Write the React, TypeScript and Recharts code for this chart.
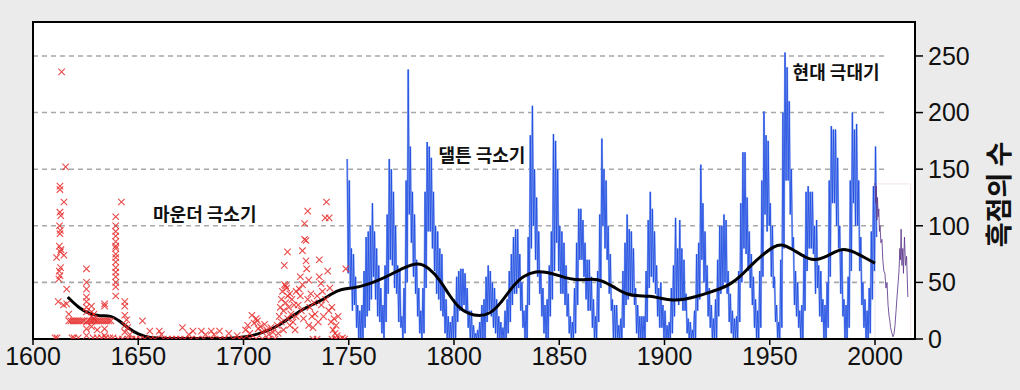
import React from 'react';
import {
  ComposedChart, Line, Scatter, XAxis, YAxis, CartesianGrid,
  ReferenceLine, ReferenceArea, ReferenceDot,
} from 'recharts';

// ---------- Data ----------
const xTicks = [1600, 1650, 1700, 1750, 1800, 1850, 1900, 1950, 2000];
const yTicks = [0, 50, 100, 150, 200, 250];
const gridValues = [50, 100, 150, 200, 250];

// Telescopic observations (group numbers) 1610-1749 — red crosses
const redYears = [
  1610.5, 1611.5, 1613.6, 1615.5, 1612.8, 1612.8, 1614.7, 1612.8, 1613.2, 1612.6, 1613.0, 1612.8, 1612.5, 1613.3,
  1613.0, 1611.2, 1614.7, 1613.1, 1612.5, 1612.8, 1612.3, 1612.0, 1616.0, 1616.0, 1614.5, 1617.0,
  1617, 1618, 1619, 1620, 1621, 1622, 1623, 1624, 1626, 1627, 1628, 1629, 1630, 1631, 1632, 1633, 1635, 1636, 1637,
  1618.5, 1619.5, 1621.5, 1628.5, 1630.5, 1632.5, 1634.5, 1636.5, 1638,
  1625.4, 1625.4, 1625.4, 1625.4, 1625.4, 1625.4, 1625.4, 1625.4, 1625.4, 1625.4,
  1627.8, 1627.8, 1627.8, 1627.8, 1629, 1629, 1634, 1634, 1634, 1634, 1634, 1630.5,
  1639.3, 1639.3, 1639.3, 1639.3, 1639.3, 1639.3, 1639.3, 1639.3, 1639.3, 1639.3, 1639.3, 1639.3, 1639.3,
  1639.3, 1639.3, 1639.3, 1642,
  1643.6, 1643.6, 1643.6, 1643.6, 1643.6, 1644.5, 1645, 1646, 1652,
  1655.5, 1660, 1661, 1671, 1674, 1676, 1680, 1682, 1684.7, 1686, 1688.6, 1693, 1697,
  1640.5, 1642.5, 1645, 1647, 1649, 1651, 1653, 1656, 1658, 1662, 1664, 1666, 1668, 1670, 1672, 1675, 1678,
  1681, 1685, 1689, 1691, 1695, 1698, 1700, 1703, 1706, 1709, 1712, 1715,
  1701, 1702, 1703, 1704, 1705, 1706, 1706.6, 1707, 1708, 1709, 1710, 1711, 1712, 1713, 1714,
  1716, 1716.5, 1717, 1717.5, 1718, 1718, 1718.5, 1719, 1719, 1719.4, 1719.5, 1720, 1720, 1720.5, 1720.9,
  1721, 1721, 1721.5, 1722, 1722, 1722.5, 1723, 1723.5, 1724, 1724.5, 1725, 1725,
  1726, 1726.5, 1727, 1727, 1727.5, 1728, 1728, 1728.5, 1729, 1729, 1729.7, 1729.7, 1730, 1730.5, 1730.5,
  1731, 1731, 1731.5, 1732, 1732.5, 1733, 1733.5,
  1734, 1735, 1735.5, 1736, 1736, 1736.8, 1737, 1737.5, 1738, 1738.8, 1739.4, 1739, 1740, 1740.7, 1740.5,
  1741, 1741.6, 1742, 1742.5, 1743, 1743.5, 1744, 1744.5, 1745, 1748.6,
  1733, 1735, 1742, 1744, 1746, 1747, 1748,
];
const redValues = [
  1, 1, 236, 152, 135, 132, 121, 112, 109, 100, 96, 93, 82, 79,
  77, 72, 74, 63, 60, 56, 53, 33, 44, 31, 30, 22,
  16, 16, 16, 16, 16, 16, 16, 16, 16, 16, 16, 16, 16, 16, 16, 16, 16, 16, 16,
  1, 1, 1, 1, 1, 1, 1, 1, 1,
  62, 50, 44, 37, 33, 28, 24, 15, 9, 3,
  29, 24, 20, 11, 22, 18, 31, 29, 16, 9, 3, 8,
  108, 100, 95, 91, 86, 82, 80, 75, 72, 68, 63, 59, 55,
  50, 46, 38, 121,
  33, 29, 21, 12, 6, 17, 10, 4, 16,
  7, 7, 4, 10, 4, 7, 7, 4, 7, 4, 7, 5, 3,
  0, 0, 0, 0, 0, 0, 0, 0, 0, 0, 0, 0, 0, 0, 0, 0, 0,
  0, 0, 0, 0, 0, 0, 0, 0, 0, 0, 0, 0,
  8, 12, 5, 21, 14, 18, 16, 9, 11, 6, 13, 8, 4, 10, 6,
  12, 5, 20, 28, 35, 15, 42, 8, 25, 65, 48, 47, 32, 45, 77,
  38, 18, 28, 12, 40, 22, 35, 15, 30, 8, 20, 42,
  30, 44, 55, 38, 25, 78, 48, 18, 102, 88, 87, 69, 62, 113, 35,
  52, 12, 28, 40, 20, 10, 32,
  22, 38, 15, 55, 70, 49, 30, 42, 20, 107, 121, 35, 60, 107, 25,
  45, 15, 28, 8, 18, 5, 12, 3, 20, 62,
  0, 0, 0, 0, 0, 1, 0,
];

// Monthly sunspot number 1749-2000: yearly high / low of monthly values
const blueStartYear = 1749;
const blueHigh = [
  159, 140, 80, 75, 55, 30, 25, 30, 60, 90, 95,
  100, 120, 95, 80, 65, 45, 30, 65, 110, 159,
  150, 130, 100, 65, 60, 20, 45, 140, 238, 170,
  130, 110, 70, 45, 25, 45, 130, 174, 170, 160,
  130, 100, 95, 80, 75, 45, 35, 20, 15, 20,
  35, 55, 60, 62, 62, 58, 45, 25, 25, 12,
  5, 8, 15, 30, 35, 55, 65, 60, 50, 45,
  35, 20, 15, 10, 25, 35, 60, 75, 90, 97,
  97, 75, 50, 25, 30, 90, 180, 206, 150, 125,
  95, 60, 45, 30, 35, 65, 95, 181, 175, 150,
  100, 95, 85, 65, 40, 20, 15, 45, 85, 115,
  115, 105, 85, 70, 70, 55, 35, 20, 60, 110,
  177, 150, 140, 100, 75, 35, 30, 30, 12, 18,
  60, 85, 110, 97, 95, 80, 45, 30, 20, 20,
  20, 60, 105, 130, 115, 95, 65, 45, 50, 30,
  25, 12, 15, 45, 65, 107, 80, 105, 80, 70,
  40, 18, 15, 8, 25, 75, 85, 154, 120, 95,
  65, 45, 30, 18, 35, 70, 100, 100, 110, 105,
  60, 40, 25, 18, 20, 60, 120, 165, 165, 125,
  95, 75, 55, 35, 25, 60, 140, 201, 180, 175,
  120, 100, 55, 30, 15, 70, 200, 253, 240, 210,
  150, 90, 60, 50, 25, 30, 75, 130, 135, 130,
  130, 100, 105, 65, 60, 35, 30, 50, 140, 188,
  185, 185, 160, 100, 80, 35, 30, 55, 140, 200,
  185, 190, 140, 90, 50, 35, 25, 45, 95, 135,
  170,
];
const blueLow = [
  58, 45, 25, 30, 10, 0, 0, 0, 10, 20, 25,
  35, 55, 35, 20, 15, 5, 0, 15, 40, 70,
  65, 45, 40, 15, 10, 0, 5, 50, 110, 85,
  55, 40, 20, 5, 0, 5, 45, 95, 95, 80,
  60, 40, 35, 25, 20, 5, 0, 0, 0, 0,
  0, 15, 25, 25, 30, 25, 10, 0, 0, 0,
  0, 0, 0, 0, 0, 15, 25, 20, 10, 5,
  0, 0, 0, 0, 0, 5, 15, 30, 40, 40,
  45, 25, 10, 0, 0, 30, 80, 100, 70, 55,
  40, 20, 5, 0, 0, 20, 35, 60, 85, 60,
  40, 40, 30, 20, 5, 0, 0, 5, 30, 70,
  70, 55, 35, 25, 25, 10, 0, 0, 15, 45,
  100, 80, 70, 40, 25, 0, 0, 0, 0, 0,
  10, 30, 35, 40, 40, 30, 5, 0, 0, 0,
  0, 15, 45, 55, 50, 40, 20, 10, 10, 0,
  0, 0, 0, 5, 20, 35, 30, 35, 25, 25,
  5, 0, 0, 0, 0, 25, 35, 70, 50, 40,
  20, 10, 0, 0, 0, 20, 40, 45, 50, 40,
  15, 5, 0, 0, 0, 15, 50, 80, 75, 60,
  45, 30, 10, 0, 0, 10, 55, 110, 95, 100,
  55, 45, 15, 0, 0, 10, 80, 140, 140, 110,
  80, 30, 20, 10, 0, 0, 25, 60, 80, 80,
  75, 40, 45, 20, 15, 0, 0, 10, 55, 120,
  120, 100, 80, 40, 20, 0, 0, 10, 60, 120,
  100, 100, 60, 30, 10, 0, 0, 5, 35, 60,
  90,
];

// Recent observations 2000-2015 — purple
const purpleYears = [
  2000.0, 2000.3, 2000.6, 2000.9, 2001.2, 2001.5, 2001.8, 2002.1, 2002.4, 2002.8, 2003.3, 2003.7, 2004.2,
  2004.7, 2005.2, 2005.7, 2006.2, 2006.7, 2007.0, 2007.4, 2007.9, 2008.5, 2009.0, 2009.5, 2010.0, 2010.5,
  2011.0, 2011.4, 2011.8, 2012.1, 2012.4, 2012.8, 2013.2, 2013.5, 2014.0, 2014.5, 2015.0, 2015.3, 2015.6,
];
const purpleValues = [
  138, 120, 135, 105, 125, 108, 115, 95, 100, 85, 88, 70, 60,
  58, 45, 50, 30, 20, 17, 10, 6, 2, 4, 12, 25, 38,
  50, 60, 80, 70, 97, 65, 80, 58, 90, 65, 73, 55, 37,
];

// Smoothed long-term trend
const trendYears = [
  1616.5, 1622, 1627, 1632, 1637, 1641, 1645, 1650, 1655, 1665, 1680, 1695, 1702, 1708, 1714, 1720, 1726,
  1731, 1736, 1742, 1746, 1752, 1757, 1763, 1769, 1776, 1783, 1788, 1793, 1798, 1802, 1807, 1812, 1817,
  1822, 1828, 1833, 1839, 1844, 1850, 1855, 1860, 1866, 1870, 1876, 1882, 1888, 1893, 1898, 1904, 1910,
  1916, 1921, 1926, 1931, 1936, 1941, 1947, 1952, 1956, 1961, 1966, 1971, 1976, 1981, 1985, 1990, 1995, 2000,
];
const trendValues = [
  37, 27, 22, 20, 21, 16, 10, 4, 1, 0.4, 0.3, 0.5, 2, 5, 9, 16, 24,
  29, 33, 40, 44, 45, 47, 51, 56, 63, 68, 63, 53, 38, 28, 22, 20, 22,
  31, 47, 56, 60, 59, 56, 53, 52, 53, 52, 46, 39, 38, 38, 36, 34, 35,
  38, 41, 44, 48, 55, 65, 75, 82, 84, 79, 73, 69, 72, 77, 80, 77, 72, 67,
];

// ---------- Derived tables ----------
const redData = redYears.map((x, i) => ({ x, y: redValues[i] }));
const blueData: { x: number; y: number }[] = [];
blueHigh.forEach((h, i) => {
  const yr = blueStartYear + i;
  blueData.push({ x: yr + 0.25, y: h });
  blueData.push({ x: yr + 0.75, y: blueLow[i] });
});
const purpleData = purpleYears.map((x, i) => ({ x, y: purpleValues[i] }));
const trendData = trendYears.map((x, i) => ({ x, y: trendValues[i] }));

const tickFont = { fontSize: 25, fill: '#111', fontFamily: 'Liberation Sans, Arial, sans-serif' };
const annFont = 'Noto Sans CJK KR, sans-serif';

const XShape = (props: any) => {
  const { cx, cy } = props;
  if (cx == null || cy == null) return <g />;
  const s = 3.2;
  return (
    <path
      d={`M${cx - s},${cy - s}L${cx + s},${cy + s}M${cx + s},${cy - s}L${cx - s},${cy + s}`}
      stroke="#e82a2a"
      strokeOpacity={0.85}
      strokeWidth={1.1}
      fill="none"
    />
  );
};

const AxisTitle = (props: any) => {
  const vb = props.viewBox || { x: 915, y: 22, width: 105, height: 317 };
  const cx = vb.x + 82;
  const cy = vb.y + vb.height / 2 + 14;
  return (
    <text
      x={cx}
      y={cy}
      transform={`rotate(-90 ${cx} ${cy})`}
      textAnchor="middle"
      dominantBaseline="central"
      fontSize={27}
      fontWeight={700}
      fontFamily={annFont}
      fill="#111"
    >
      흑점의 수
    </text>
  );
};

const annLabel = (value: string) => ({
  value,
  position: 'center' as const,
  fontSize: 18,
  fontWeight: 700,
  fill: '#111',
  fontFamily: annFont,
});

export default function App() {
  return (
    <div style={{ position: 'absolute', left: 0, top: 0, width: 1020, height: 390, background: '#ebebeb' }}>
      <ComposedChart width={1020} height={390} margin={{ top: 22, right: 0, bottom: 0, left: 32 }}>
        <CartesianGrid horizontal={false} vertical={false} fill="#ffffff" yAxisId="right" />
        <XAxis
          dataKey="x"
          type="number"
          domain={[1600, 2019]}
          ticks={xTicks}
          allowDataOverflow
          height={51}
          tick={tickFont}
          tickSize={6}
          tickMargin={2}
          axisLine={{ stroke: '#000', strokeWidth: 2 }}
          tickLine={{ stroke: '#000', strokeWidth: 1.5 }}
        />
        <YAxis
          yAxisId="left"
          orientation="left"
          type="number"
          domain={[0, 280]}
          ticks={yTicks}
          allowDataOverflow
          width={1}
          tick={false}
          tickSize={8}
          axisLine={{ stroke: '#000', strokeWidth: 2 }}
          tickLine={{ stroke: '#000', strokeWidth: 1.5 }}
        />
        <YAxis
          yAxisId="right"
          orientation="right"
          type="number"
          domain={[0, 280]}
          ticks={yTicks}
          allowDataOverflow
          width={105}
          tick={tickFont}
          tickSize={8}
          tickMargin={5}
          axisLine={{ stroke: '#000', strokeWidth: 2 }}
          tickLine={{ stroke: '#000', strokeWidth: 1.5 }}
          label={{ content: AxisTitle }}
        />
        {gridValues.map((v) => (
          <ReferenceLine
            key={v}
            yAxisId="right"
            segment={[{ x: 1600, y: v }, { x: 2006, y: v }]}
            stroke="#a8a8a8"
            strokeWidth={1.6}
            strokeDasharray="5 4"
          />
        ))}
        <ReferenceArea
          yAxisId="right"
          x1={2000}
          x2={2017}
          y1={0}
          y2={137}
          fill="none"
          stroke="#f1e4ea"
          strokeWidth={1}
        />
        <Scatter
          yAxisId="right"
          data={redData}
          dataKey="y"
          shape={XShape}
          isAnimationActive={false}
        />
        <Line
          yAxisId="right"
          data={blueData}
          dataKey="y"
          type="linear"
          stroke="#9bb5f3"
          strokeWidth={2}
          dot={false}
          activeDot={false}
          isAnimationActive={false}
        />
        <Line
          yAxisId="right"
          data={blueData}
          dataKey="y"
          type="linear"
          stroke="#1a47e0"
          strokeWidth={0.8}
          dot={false}
          activeDot={false}
          isAnimationActive={false}
        />
        <Line
          yAxisId="right"
          data={purpleData}
          dataKey="y"
          type="linear"
          stroke="#5e3a8c"
          strokeWidth={1}
          strokeOpacity={0.85}
          dot={false}
          activeDot={false}
          isAnimationActive={false}
        />
        <Line
          yAxisId="right"
          data={trendData}
          dataKey="y"
          type="basis"
          stroke="#000"
          strokeWidth={3}
          dot={false}
          activeDot={false}
          isAnimationActive={false}
        />
        <ReferenceArea
          yAxisId="right"
          x1={1600}
          x2={2019}
          y1={0}
          y2={280}
          fill="none"
          stroke="#000"
          strokeWidth={2}
        />
        <ReferenceDot yAxisId="right" x={1681.6} y={110} r={0} fill="none" stroke="none" label={annLabel('마운더 극소기')} />
        <ReferenceDot yAxisId="right" x={1813.3} y={162} r={0} fill="none" stroke="none" label={annLabel('댈튼 극소기')} />
        <ReferenceDot yAxisId="right" x={1981.5} y={235.5} r={0} fill="none" stroke="none" label={annLabel('현대 극대기')} />
      </ComposedChart>
    </div>
  );
}
